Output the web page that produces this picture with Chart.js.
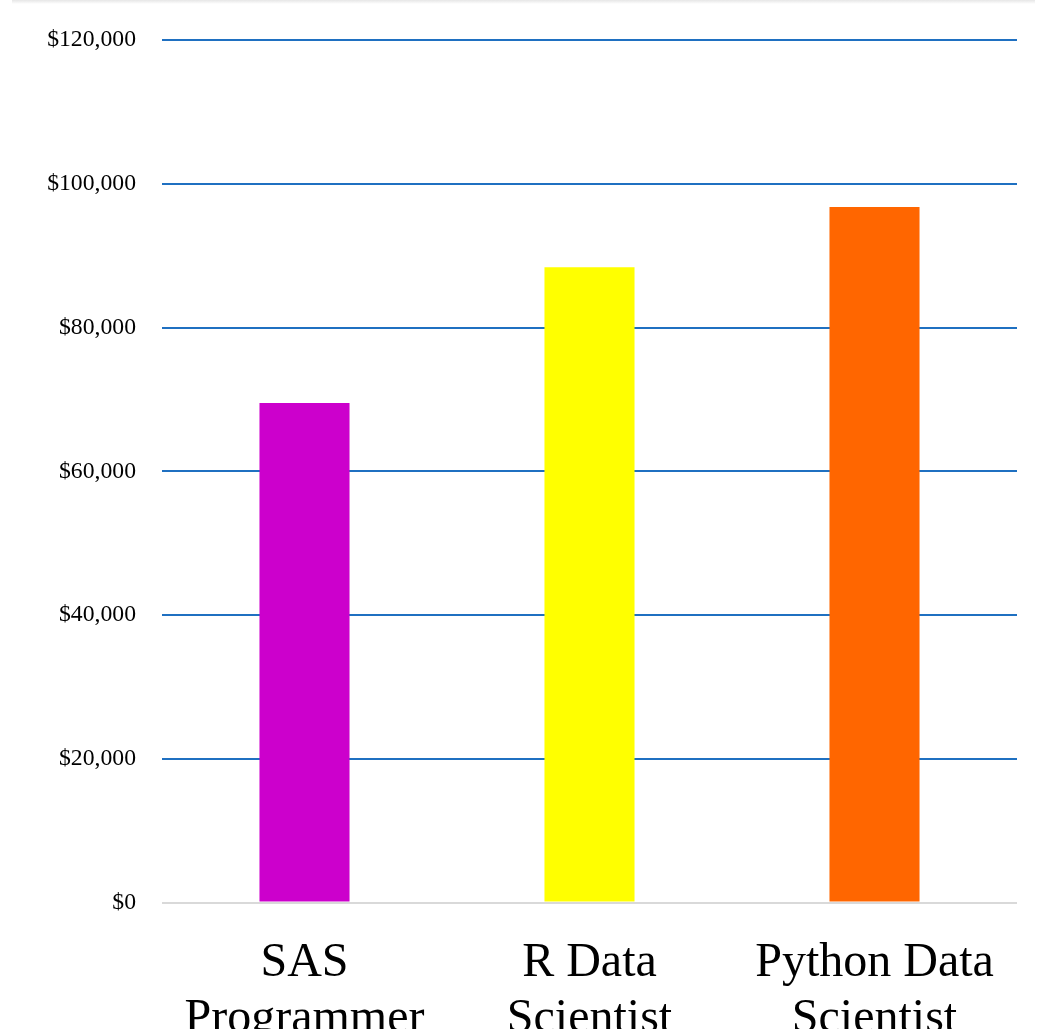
<!DOCTYPE html>
<html>
<head>
<meta charset="utf-8">
<script src="https://cdn.jsdelivr.net/npm/chart.js@4.4.1/dist/chart.umd.min.js"></script>
<style>
  html, body { margin: 0; padding: 0; background: #ffffff; overflow: hidden; }
  #wrap { position: relative; width: 1047px; height: 1029px; }
  #shade { position: absolute; left: 12px; top: 0; width: 1023px; height: 4px;
           background: linear-gradient(to bottom, #e6e6e6, #ffffff); }
  canvas { position: absolute; left: 0; top: 0; }
</style>
</head>
<body>
<div id="wrap">
  <canvas id="c" width="1047" height="1029"></canvas>
  <div id="shade"></div>
</div>
<script>
const categories = [["SAS", "Programmer"], ["R Data", "Scientist"], ["Python Data", "Scientist"]];
const salaries = [69500, 88400, 96800];
const barColors = ["#CC00CC", "#FFFF00", "#FF6600"];
const yTicks = [0, 20000, 40000, 60000, 80000, 100000, 120000];

new Chart(document.getElementById("c"), {
  type: "bar",
  data: {
    labels: categories,
    datasets: [{
      data: salaries,
      backgroundColor: barColors,
      borderWidth: 0,
      categoryPercentage: 1.0,
      barPercentage: 0.316
    }]
  },
  options: {
    responsive: false,
    animation: false,
    layout: { padding: { top: 36.5, right: 30, left: 0, bottom: 0 } },
    plugins: { legend: { display: false }, tooltip: { enabled: false } },
    scales: {
      x: {
        grid: { display: false, drawTicks: false },
        border: { display: false },
        ticks: {
          color: "#000000",
          padding: 33,
          maxRotation: 0,
          autoSkip: false,
          font: { family: "'Liberation Serif', 'Times New Roman', serif", size: 48, lineHeight: 1.16 }
        },
        afterFit: (scale) => { scale.height = 126.5; }
      },
      y: {
        min: 0,
        max: 120000,
        afterBuildTicks: (scale) => { scale.ticks = yTicks.map(v => ({ value: v })); },
        grid: {
          drawTicks: false,
          lineWidth: 2,
          color: (ctx) => (ctx.tick && ctx.tick.value === 0) ? "#D9D9D9" : "#1F70C1"
        },
        border: { display: false },
        ticks: {
          color: "#000000",
          padding: 26,
          font: { family: "'Liberation Serif', 'Times New Roman', serif", size: 23.7 },
          callback: (v) => "$" + Number(v).toLocaleString("en-US")
        },
        afterFit: (scale) => { scale.width = 162; }
      }
    }
  }
});
</script>
</body>
</html>
